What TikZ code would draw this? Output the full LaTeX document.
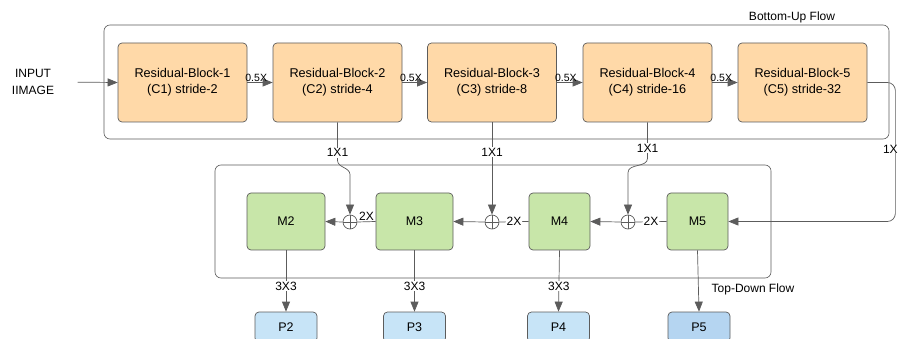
\documentclass[tikz,border=0pt]{standalone}
\usepackage{fontspec}
\setmainfont{Liberation Sans}
\usetikzlibrary{arrows.meta}
\definecolor{resfill}{HTML}{FFD9A8}
\definecolor{mfill}{HTML}{C8E6A9}
\definecolor{pfill}{HTML}{C7E4F7}
\definecolor{pdark}{HTML}{B5D5F1}
\definecolor{edge}{HTML}{5C5C5C}
\tikzset{
  resblock/.style={draw=edge, fill=resfill, line width=0.7pt, rounded corners=4pt,
    minimum width=129pt, minimum height=79pt, align=center,
    font=\fontsize{12.7}{16}\selectfont},
  mblock/.style={draw=edge, fill=mfill, line width=0.7pt, rounded corners=4pt,
    minimum height=57pt, font=\fontsize{12.5}{15}\selectfont},
  pblock/.style={draw=edge, fill=pfill, line width=0.7pt, rounded corners=4pt,
    minimum width=62pt, minimum height=30pt, font=\fontsize{12.5}{15}\selectfont},
  sumnode/.style={circle, draw=edge, line width=0.7pt, minimum size=14pt, inner sep=0pt,
    path picture={\draw[edge, line width=0.7pt]
      (path picture bounding box.north) -- (path picture bounding box.south)
      (path picture bounding box.west) -- (path picture bounding box.east);}},
  frame/.style={draw=edge, line width=0.6pt, rounded corners=6pt},
  flow/.style={draw=edge, line width=0.7pt, -{Triangle[length=10pt,width=8pt]}},
  plain/.style={draw=edge, line width=0.7pt},
  lbl/.style={fill=white, inner sep=1pt, font=\fontsize{12}{14}\selectfont},
  small/.style={inner sep=1pt, font=\fontsize{10.5}{12}\selectfont},
}
\begin{document}
\begin{tikzpicture}[x=1pt, y=-1pt]
  \useasboundingbox (0,0) rectangle (900,339);
  % the two flow frames
  \draw[frame] (104,25) rectangle (889,139);
  \node[font=\fontsize{12}{14}\selectfont] (bulabel) at (792,17) {Bottom-Up Flow};
  \draw[frame] (215,165) rectangle (771,278);
  \node[font=\fontsize{12}{14}\selectfont] (tdlabel) at (753,289) {Top-Down Flow};

  % bottom-up path
  \node[align=center, font=\fontsize{12}{17}\selectfont] (in) at (33,82) {INPUT\\IIMAGE};
  \node[resblock] (RB1) at (182.5,82.5) {Residual-Block-1\\(C1) stride-2};
  \node[resblock] (RB2) at (337.5,82.5) {Residual-Block-2\\(C2) stride-4};
  \node[resblock] (RB3) at (492,82.5) {Residual-Block-3\\(C3) stride-8};
  \node[resblock] (RB4) at (647.5,82.5) {Residual-Block-4\\(C4) stride-16};
  \node[resblock] (RB5) at (802.5,82.5) {Residual-Block-5\\(C5) stride-32};

  \draw[flow, shorten <=20pt] (in.east) -- (RB1.west);
  \foreach \a/\b in {RB1/RB2, RB2/RB3, RB3/RB4, RB4/RB5}
    \draw[flow] (\a.east) -- node[small, above, pos=0.35] {0.5X} (\b.west);

  % top-down path
  \node[mblock, minimum width=78pt] (M2) at (286,221.5) {M2};
  \node[mblock, minimum width=77pt] (M3) at (414.5,221.5) {M3};
  \node[mblock, minimum width=61pt] (M4) at (559.5,221.5) {M4};
  \node[mblock, minimum width=61pt] (M5) at (697.5,221.5) {M5};
  \node[sumnode] (S2) at (350,222) {};
  \node[sumnode] (S3) at (492,222) {};
  \node[sumnode] (S4) at (628,222) {};

  \draw[plain] (M5.west) -- node[lbl] {2X} (S4.east);
  \draw[flow] (S4.west) -- (M4.east);
  \draw[plain] (M4.west) -- node[lbl] {2X} (S3.east);
  \draw[flow] (S3.west) -- (M3.east);
  \draw[plain] (M3.west) -- node[lbl, above, fill=none, inner sep=0.5pt] {2X} (S2.east);
  \draw[flow] (S2.west) -- (M2.east);

  % lateral 1x1 links
  \draw[flow] (RB2.south) -- ++(0,38) node[lbl, pos=0.8] {1X1}
    to[out=-90, in=90] ([yshift=40pt]S2.north) -- (S2.north);
  \draw[flow] (RB3.south) -- node[lbl, pos=0.32] {1X1} (S3.north);
  \draw[flow] (RB4.south) -- ++(0,36) node[lbl, pos=0.72] {1X1}
    to[out=-90, in=90] ([yshift=42pt]S4.north) -- (S4.north);
  \draw[flow, rounded corners=8pt] (RB5.east) -- ++(28,0)
    |- node[lbl, pos=0.24, xshift=-5pt] {1X} (M5.east);

  % outputs
  \node[pblock] (P2) at (286,327) {P2};
  \node[pblock] (P3) at (414.5,327) {P3};
  \node[pblock] (P4) at (558.5,327) {P4};
  \node[pblock, fill=pdark] (P5) at (699,327) {P5};
  \foreach \m/\p in {M2/P2, M3/P3, M4/P4}
    \draw[flow] (\m.south) -- node[lbl, pos=0.58] {3X3} (\p.north);
  \draw[flow] (M5.south) -- (P5.north);
\end{tikzpicture}
\end{document}
